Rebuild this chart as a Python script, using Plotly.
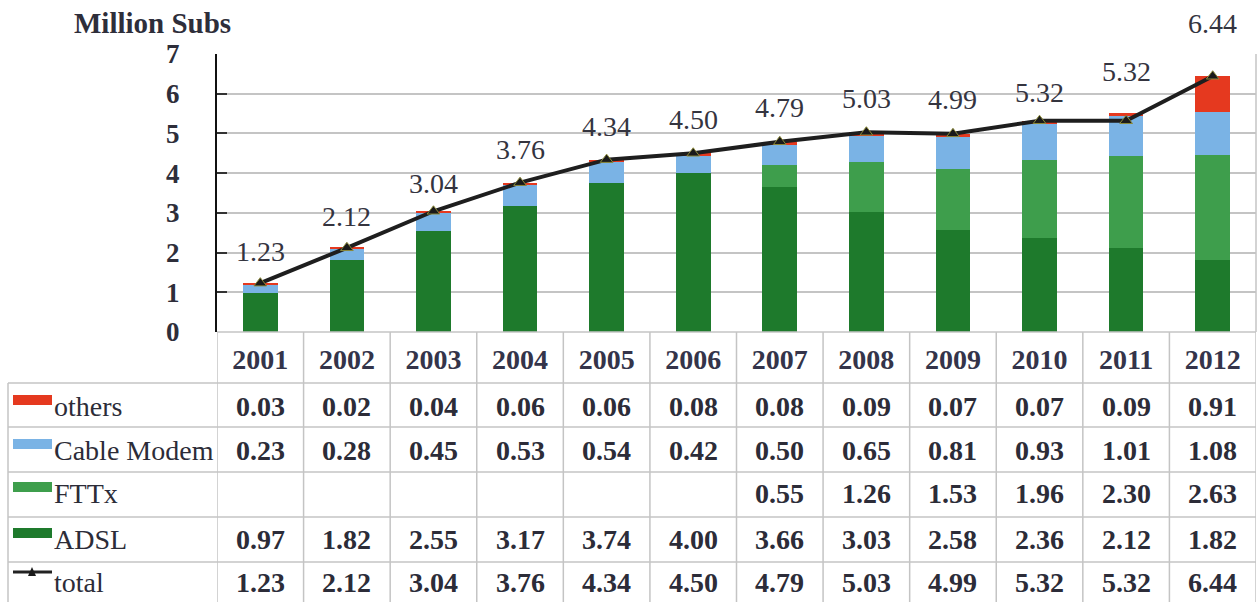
import plotly.graph_objects as go

# Broadband subscribers by technology (million subs)
years = ["2001", "2002", "2003", "2004", "2005", "2006",
         "2007", "2008", "2009", "2010", "2011", "2012"]
others = [0.03, 0.02, 0.04, 0.06, 0.06, 0.08, 0.08, 0.09, 0.07, 0.07, 0.09, 0.91]
cable_modem = [0.23, 0.28, 0.45, 0.53, 0.54, 0.42, 0.50, 0.65, 0.81, 0.93, 1.01, 1.08]
fttx = [None, None, None, None, None, None, 0.55, 1.26, 1.53, 1.96, 2.30, 2.63]
adsl = [0.97, 1.82, 2.55, 3.17, 3.74, 4.00, 3.66, 3.03, 2.58, 2.36, 2.12, 1.82]
total = [1.23, 2.12, 3.04, 3.76, 4.34, 4.50, 4.79, 5.03, 4.99, 5.32, 5.32, 6.44]
y_ticks = [0, 1, 2, 3, 4, 5, 6, 7]

# label lift above each total point (px)
label_lift = [32, 31, 28, 33, 33, 34, 34, 34, 34, 28, 49, 53]

W, H = 1258, 602
FONT = "Liberation Serif"
TXT = "#2c2c38"
GRID = "#c4c4c4"
C_ADSL = "#1e7a2c"
C_FTTX = "#3e9e4c"
C_CABLE = "#7ab3e5"
C_OTHERS = "#e5391f"


def px_x(p):
    return p / W


def px_y(p):
    return 1 - p / H


fig = go.Figure()

series = [("ADSL", adsl, C_ADSL), ("FTTx", fttx, C_FTTX),
          ("Cable Modem", cable_modem, C_CABLE), ("others", others, C_OTHERS)]
for name, vals, col in series:
    fig.add_trace(go.Bar(x=years, y=vals, name=name, marker=dict(color=col, line=dict(width=0)),
                         showlegend=False))

fig.add_trace(go.Scatter(x=years, y=total, name="total", mode="lines+markers",
                         line=dict(color="#1e1e1e", width=4),
                         marker=dict(symbol="triangle-up", size=11, color="#1a1a1a",
                                     line=dict(color="#8c8a3a", width=1)),
                         showlegend=False))

annotations = []
# data labels on the total line (x given as category index)
for i, (v, lift) in enumerate(zip(total, label_lift)):
    annotations.append(dict(x=i, y=v, xref="x", yref="y", text=f"{v:.2f}", showarrow=False,
                            yshift=lift, yanchor="middle",
                            font=dict(family=FONT, size=28, color="#34343f")))

annotations.append(dict(x=px_x(72), y=px_y(23), xref="paper", yref="paper", xanchor="left",
                        yanchor="middle", text="Million Subs", showarrow=False,
                        font=dict(family=FONT, size=29, color="#2e2e3a", weight="bold")))

# data table below the chart
rows = [("others", others, C_OTHERS, 406),
        ("Cable Modem", cable_modem, C_CABLE, 450),
        ("FTTx", fttx, C_FTTX, 493),
        ("ADSL", adsl, C_ADSL, 539),
        ("total", total, None, 582)]

shapes = []
for label, vals, col, yc in rows:
    annotations.append(dict(x=px_x(52), y=px_y(yc), xref="paper", yref="paper", xanchor="left",
                            yanchor="middle", text=label, showarrow=False,
                            font=dict(family=FONT, size=28, color=TXT)))
    for i, v in enumerate(vals):
        if v is None:
            continue
        annotations.append(dict(x=i, y=px_y(yc), xref="x", yref="paper", text=f"{v:.2f}",
                                showarrow=False, yanchor="middle",
                                font=dict(family=FONT, size=28, color=TXT, weight="bold")))
    if col is not None:
        shapes.append(dict(type="rect", xref="paper", yref="paper",
                           x0=px_x(13), x1=px_x(52), y0=px_y(yc - 11), y1=px_y(yc - 1),
                           fillcolor=col, line=dict(width=0)))
    else:
        shapes.append(dict(type="line", xref="paper", yref="paper",
                           x0=px_x(13), x1=px_x(52), y0=px_y(yc - 10), y1=px_y(yc - 10),
                           line=dict(color="#222222", width=3)))
        shapes.append(dict(type="path", xref="paper", yref="paper",
                           path=f"M {px_x(28)} {px_y(yc - 6)} L {px_x(36)} {px_y(yc - 6)} "
                                f"L {px_x(32)} {px_y(yc - 15)} Z",
                           fillcolor="#1a1a1a", line=dict(width=0)))

# table grid
y_top_plot, y_axis, y_head, y_bottom = 54, 332, 383, 602
row_lines = [383, 427, 472, 517, 562]
for k in range(len(years) + 1):
    shapes.append(dict(type="line", xref="x", yref="paper", x0=k - 0.5, x1=k - 0.5,
                       y0=px_y(y_axis), y1=px_y(y_bottom), line=dict(color=GRID, width=1.5),
                       layer="below"))
shapes.append(dict(type="line", xref="paper", yref="paper", x0=px_x(1256), x1=px_x(1256),
                   y0=px_y(y_top_plot), y1=px_y(y_axis), line=dict(color=GRID, width=1.5)))
shapes.append(dict(type="line", xref="paper", yref="paper", x0=px_x(217), x1=px_x(1256),
                   y0=px_y(y_axis), y1=px_y(y_axis), line=dict(color=GRID, width=1.5)))
for r in row_lines:
    shapes.append(dict(type="line", xref="paper", yref="paper", x0=px_x(8), x1=px_x(1256),
                       y0=px_y(r), y1=px_y(r), line=dict(color=GRID, width=1.5)))
shapes.append(dict(type="line", xref="paper", yref="paper", x0=px_x(8), x1=px_x(8),
                   y0=px_y(y_head), y1=px_y(y_bottom), line=dict(color=GRID, width=1.5)))

fig.update_layout(
    width=W, height=H,
    margin=dict(l=0, r=0, t=0, b=0, autoexpand=False),
    paper_bgcolor="white", plot_bgcolor="white",
    barmode="stack", bargap=0.6,
    annotations=annotations, shapes=shapes,
    xaxis=dict(domain=[px_x(217), px_x(1256)], type="category", range=[-0.5, 11.5],
               automargin=False,
               showgrid=False, showline=False, ticks="", ticklabelstandoff=8,
               tickfont=dict(family=FONT, size=28, color="#34344a", weight="bold")),
    yaxis=dict(domain=[px_y(y_axis), px_y(y_top_plot)], range=[0, 7], tickvals=y_ticks,
               automargin=False,
               showgrid=True, gridcolor=GRID, gridwidth=1.5, zeroline=False,
               showline=True, linecolor="#111111", linewidth=2,
               ticks="inside", ticklen=10, tickcolor="#333333", tickwidth=1.5,
               ticklabelstandoff=30,
               tickfont=dict(family=FONT, size=27, color="#2e2e3a", weight="bold")),
)

fig.write_html("out.html")
